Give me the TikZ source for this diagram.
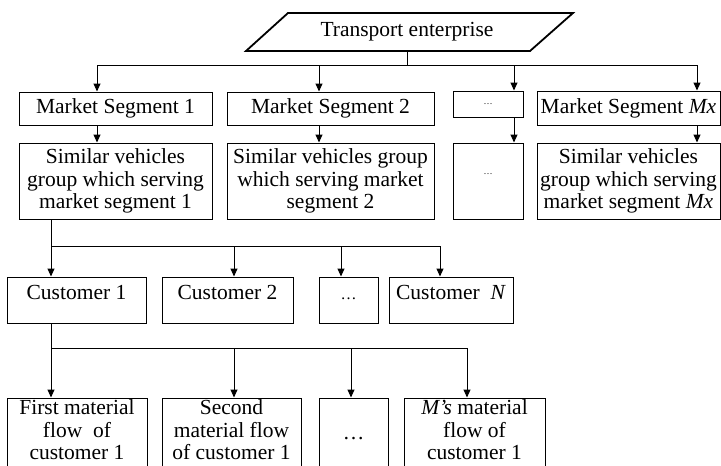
\documentclass[tikz,border=0pt]{standalone}
\usepackage{fontspec}
\setmainfont{Liberation Serif}
\usetikzlibrary{arrows.meta}

\begin{document}
\begin{tikzpicture}[x=1pt,y=-1pt,
  every node/.style={font=\fontsize{21.5}{22.5}\selectfont, inner sep=1pt},
  box/.style={draw, line width=1pt, align=center},
  arr/.style={-{Triangle[length=8pt,width=7pt]}, line width=1pt}]
  \clip (0,0) rectangle (721,466);
  % enterprise
  \draw[line width=1.8pt] (288,13) -- (573,13) -- (530,51) -- (246,51) -- cycle;
  \node[minimum height=38] (ent) at (407,32) {Transport enterprise};
  % market segments
  \node[box, minimum width=193, minimum height=33] (ms1) at (115.5,108.5) {Market Segment 1};
  \node[box, minimum width=207, minimum height=33] (ms2) at (330.5,108.5) {Market Segment 2};
  \node[box, minimum width=70, minimum height=26] (msd) at (488,104) {\fontsize{9}{10}\selectfont\ldots};
  \node[box, minimum width=183, minimum height=34] (msM) at (628.5,108) {Market Segment \textit{Mx}};
  % vehicle groups
  \node[box, minimum width=193, minimum height=76] (sim1) at (115.5,181) {Similar vehicles\\group which serving\\market segment 1};
  \node[box, minimum width=207, minimum height=76] (sim2) at (330.5,181) {Similar vehicles group\\which serving market\\segment 2};
  \node[box, minimum width=70, minimum height=76, text height=15, text depth=29] (simd) at (488,181) {\fontsize{9}{10}\selectfont\ldots};
  \node[box, minimum width=183, minimum height=76] (simM) at (628.5,181) {Similar vehicles\\group which serving\\market segment \textit{Mx}};
  % customers
  \tikzstyle{cbox}=[box, minimum height=46, text height=15, text depth=17]
  \node[cbox, minimum width=139] (cu1) at (76.5,300) {Customer 1};
  \node[cbox, minimum width=131] (cu2) at (227.5,300) {Customer 2};
  \node[cbox, minimum width=59] (cud) at (348.5,300) {\fontsize{16}{18}\selectfont\ldots};
  \node[cbox, minimum width=124] (cuN) at (451,300) {Customer\ \ \textit{N}};
  % material flows
  \tikzstyle{fbox}=[box, minimum height=70, text depth=6]
  \node[fbox, minimum width=140] (mf1) at (77,433) {First material\\flow\ \ of\\customer 1};
  \node[fbox, minimum width=139] (mf2) at (231.5,433) {Second\\material flow\\of customer 1};
  \node[fbox, minimum width=69, text height=12, text depth=0] (mfd) at (353.5,433) {\ldots};
  \node[fbox, minimum width=141] (mfM) at (474.5,433) {\textit{M’s} material\\flow of\\customer 1};
  % connectors
  \foreach \n/\x in {1/97,2/319,d/514,M/697}{
    \coordinate (t\n) at (\x,65);
  }
  \draw[line width=1pt] (ent.south) -- (ent.south |- t1);
  \draw[line width=1pt] (t1) -- (tM);
  \foreach \n in {1,2,d,M}{
    \draw[arr] (t\n) -- (t\n |- ms\n.north);
    \draw[arr] (t\n |- ms\n.south) -- (t\n |- sim\n.north);
  }
  \foreach \n/\x in {1/51,2/234,d/341,N/440}{
    \coordinate (c\n) at (\x,246);
  }
  \draw[line width=1pt] (sim1.south -| c1) -- (c1) -- (cN);
  \foreach \n in {1,2,d,N}{
    \draw[arr] (c\n) -- (c\n |- cu\n.north);
  }
  \foreach \n/\x in {1/51,2/234,d/351,M/467}{
    \coordinate (f\n) at (\x,348);
  }
  \draw[line width=1pt] (cu1.south -| f1) -- (f1) -- (fM);
  \foreach \n in {1,2,d,M}{
    \draw[arr] (f\n) -- (f\n |- mf\n.north);
  }
\end{tikzpicture}
\end{document}
